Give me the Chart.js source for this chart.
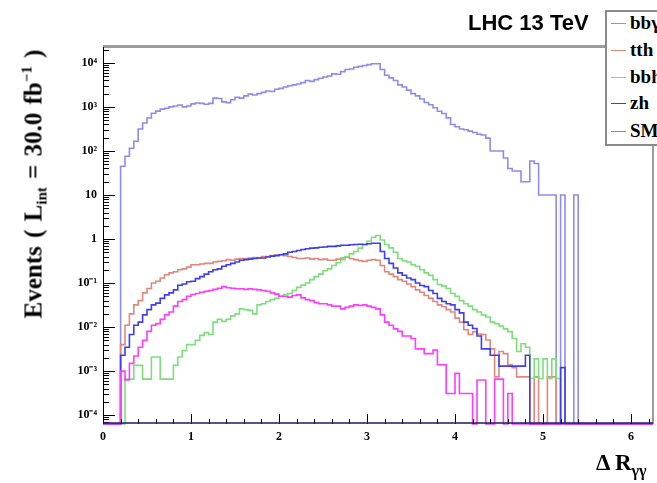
<!DOCTYPE html>
<html><head><meta charset="utf-8">
<script src="https://cdn.jsdelivr.net/npm/chart.js@4.4.0/dist/chart.umd.min.js"></script>
<style>
html,body{margin:0;padding:0;background:#fff;overflow:hidden;width:657px;height:483px;}
#wrap{position:relative;width:657px;height:483px;overflow:hidden;}
canvas{position:absolute;left:0;top:0;}
.t{position:absolute;white-space:nowrap;color:#000;}
#title{left:468px;top:12px;font:bold 22px/22px "Liberation Sans",Arial,sans-serif;}
#ytitle{left:33px;top:184px;font:bold 25px/25px "Liberation Serif","Times New Roman",serif;word-spacing:2px;transform:translate(-50%,-50%) rotate(-90deg);}
#xtitle{left:596px;top:451px;font:bold 23px/23px "Liberation Serif","Times New Roman",serif;}
#xtitle sub{font-size:70%;}
sub,sup{font-size:60%;line-height:0;}
sub{vertical-align:-0.35em;}
sup{vertical-align:0.7em;}
#legend{position:absolute;left:605px;top:10px;width:100px;height:132px;border:2px solid #8a8a8a;background:#fff;}
.row{position:absolute;left:0;height:20px;}
.row .ln{position:absolute;left:4px;top:9px;width:15px;height:0;border-top:1.5px solid #000;}
.row .tx{position:absolute;left:23px;top:-1px;font:bold 19px/20px "Liberation Serif","Times New Roman",serif;white-space:nowrap;}
</style></head><body>
<div id="wrap">
<canvas id="c" width="657" height="483"></canvas>
<div class="t" id="title">LHC 13 TeV</div>
<div id="legend"></div>
<div class="t" id="ytitle">Events ( L<sub>int</sub> = 30.0 fb<sup>−1</sup> )</div>
<div class="t" id="xtitle">Δ R<sub>γγ</sub></div>
</div>
<script>
// ---- data (histograms, bin width 0.05 from 0 to 6.25) ----
const BIN_W = 0.05;
const seriesNames = ['bbγγ', 'tth', 'bbh', 'zh', 'SM hh'];
const seriesColors = ['#8c8cf2', '#e0887c', '#7ede7e', '#3d3df5', '#ff3cff'];

const bbyy = [
  0,0,0,0,45,76,115,166,316,430,
  560,720,800,890,930,1000,1050,1100,1000,1050,
  1170,1230,1200,1150,1200,1580,1550,1300,1250,1450,
  1660,1580,1780,1950,1860,2000,2140,2290,2240,2510,
  2630,2820,3020,3160,3310,3550,3980,3800,4170,4470,
  4790,5010,5620,5500,6310,7080,7240,7940,8320,8710,
  9120,9550,9550,7080,5250,4570,3980,3160,2820,2400,
  2000,1780,1510,1260,1120,955,794,708,562,398,
  355,316,302,282,263,240,230,195,100,100,
  100,69,40,35,35,20,20,59,52,10,
  10,10,10,0,10,0,0,10,0,0,
  0,0,0,0,0,0,0,0,0,0,
  0,0,0,0,0
];
const tth = [
  0,0,0,0,0.004,0.011,0.02,0.032,0.04,0.06,
  0.075,0.1,0.11,0.13,0.155,0.17,0.18,0.2,0.21,0.23,
  0.26,0.26,0.27,0.28,0.28,0.3,0.31,0.32,0.34,0.33,
  0.35,0.36,0.36,0.37,0.38,0.37,0.4,0.4,0.42,0.43,
  0.44,0.42,0.4,0.38,0.36,0.36,0.37,0.35,0.36,0.34,
  0.35,0.33,0.33,0.35,0.37,0.39,0.36,0.34,0.32,0.31,
  0.33,0.34,0.33,0.25,0.18,0.16,0.14,0.12,0.11,0.095,
  0.083,0.07,0.062,0.052,0.045,0.038,0.032,0.029,0.025,0.022,
  0.016,0.013,0.0087,0.0068,0.0079,0.007,0.0068,0.0051,0.0032,0.00074,
  0.0028,0.0025,0.0014,0.0012,0.00074,0.00074,0.00074,0,0.00074,0,
  0,0.00074,0.00074,0,0,0,0,0,0,0,
  0,0,0,0,0,0,0,0,0,0,
  0,0,0,0,0
];
const bbh = [
  0,0,0,0,0,6.6e-4,6.6e-4,1.35e-3,1.35e-3,6.6e-4,
  6.6e-4,2.1e-3,2.1e-3,6.6e-4,6.6e-4,6.6e-4,1.35e-3,2.1e-3,2.9e-3,4e-3,
  4e-3,5e-3,6.5e-3,7.5e-3,6.8e-3,1.3e-2,1.5e-2,1.35e-2,1.5e-2,1.8e-2,
  2.0e-2,2.6e-2,2.5e-2,2.4e-2,2.0e-2,3.2e-2,3.4e-2,3.8e-2,4.2e-2,4.5e-2,
  5e-2,5.5e-2,5.8e-2,6.8e-2,8e-2,9e-2,0.1,0.12,0.14,0.16,
  0.19,0.21,0.25,0.29,0.34,0.4,0.46,0.52,0.62,0.75,
  0.89,1.1,1.2,0.95,0.75,0.63,0.5,0.36,0.32,0.3,
  0.26,0.24,0.2,0.17,0.15,0.12,0.093,0.085,0.075,0.058,
  0.05,0.04,0.034,0.03,0.025,0.022,0.019,0.017,0.013,0.012,
  0.0105,0.0091,0.0079,0.0055,0.0028,0.0042,0.0035,6.8e-4,1.9e-3,6.8e-4,
  1.9e-3,6.8e-4,1.9e-3,6.8e-4,0,0,0,0,0,0,
  0,0,0,0,0,0,0,0,0,0,
  0,0,0,0,0
];
const zh = [
  0,0,0,0,0.0023,0.0035,0.0068,0.011,0.013,0.019,
  0.025,0.032,0.035,0.045,0.054,0.06,0.07,0.089,0.095,0.107,
  0.11,0.126,0.14,0.16,0.18,0.2,0.21,0.24,0.26,0.28,
  0.3,0.33,0.34,0.35,0.36,0.37,0.37,0.39,0.41,0.42,
  0.44,0.46,0.5,0.52,0.55,0.58,0.6,0.62,0.63,0.65,
  0.66,0.68,0.68,0.7,0.72,0.72,0.74,0.75,0.76,0.75,
  0.78,0.8,0.8,0.52,0.36,0.28,0.22,0.17,0.15,0.13,
  0.12,0.1,0.088,0.083,0.068,0.058,0.045,0.038,0.034,0.032,
  0.025,0.021,0.013,0.011,0.0093,0.0063,0.0032,0.0032,0.0023,0.0023,
  0.0013,0.0013,0.0013,0.0013,0.0013,0.0013,0.0023,0,0,0,
  0,0,0,0,0.0012,0,0,0,0,0,
  0,0,0,0,0,0,0,0,0,0,
  0,0,0,0,0
];
const smhh = [
  0,0,0,0,1.0e-3,6.3e-4,1.5e-3,2.2e-3,3.5e-3,5e-3,
  8e-3,1.1e-2,1.2e-2,1.5e-2,1.9e-2,2.2e-2,3.0e-2,3.8e-2,4.2e-2,5e-2,
  5.5e-2,5.8e-2,6.2e-2,6.5e-2,6.8e-2,7.2e-2,7.6e-2,8.3e-2,7.8e-2,7.6e-2,
  7.4e-2,7.4e-2,7.2e-2,7.4e-2,7.2e-2,7.0e-2,6.8e-2,6.5e-2,6.0e-2,5.6e-2,
  5.0e-2,5.0e-2,4.8e-2,5.2e-2,5.4e-2,4.6e-2,4.2e-2,4.0e-2,3.6e-2,3.4e-2,
  3.4e-2,3.2e-2,3.0e-2,3.0e-2,2.6e-2,2.8e-2,3.0e-2,3.2e-2,3.1e-2,3.2e-2,
  3.0e-2,2.8e-2,2.6e-2,1.9e-2,1.3e-2,1.1e-2,9.1e-3,8e-3,6.3e-3,6.3e-3,
  5.5e-3,3.2e-3,3.2e-3,2.5e-3,2.5e-3,3.0e-3,1.4e-3,1.4e-3,3.1e-4,3.1e-4,
  8.9e-4,3.1e-4,3.1e-4,3.1e-4,0,6.3e-4,6.3e-4,0,0,6.6e-4,
  6.6e-4,0,3.1e-4,0,0,0,0,0,0,0,
  0,0,0,0,0,0,0,0,0,0,
  0,0,0,0,0,0,0,0,0,0,
  0,0,0,0,0
];
const seriesValues = [bbyy, tth, bbh, zh, smhh];

const xTickLabels = ['0','1','2','3','4','5','6'];
const yTickLabels = ['10⁻⁴','10⁻³','10⁻²','10⁻¹','1','10','10²','10³','10⁴'];
const yTickExponents = [-4,-3,-2,-1,0,1,2,3,4];

// ---- axis ranges ----
const X_MIN = 0, X_MAX = 6.25;
const Y_MIN = Math.pow(10, -4.2), Y_MAX = Math.pow(10, 4.36);

function toPoints(vals) {
  const pts = vals.map((v, i) => ({ x: i * BIN_W, y: v > 0 ? v : Y_MIN }));
  pts.push({ x: vals.length * BIN_W, y: pts[pts.length - 1].y });
  return pts;
}

// legend (HTML)
const leg = document.getElementById('legend');
const rowTops = [2, 28.6, 56.3, 82, 109.6];
seriesNames.forEach((n, i) => {
  const r = document.createElement('div');
  r.className = 'row'; r.style.top = rowTops[i] + 'px'; r.style.width = '100px';
  r.innerHTML = '<div class="ln" style="border-top-color:' + seriesColors[i] + '"></div><div class="tx">' + n + '</div>';
  leg.appendChild(r);
});

const isInt = v => Math.abs(v - Math.round(v)) < 1e-6;
const isDecade = v => { const e = Math.log10(v); return Math.abs(e - Math.round(e)) < 1e-6; };

const framePlugin = {
  id: 'frame',
  afterDatasetsDraw(chart) {
    const { ctx, chartArea: a, scales } = chart;
    const xs = scales.x, ys = scales.y;
    ctx.save();
    ctx.strokeStyle = '#9c9c9c';
    ctx.lineWidth = 3;
    ctx.beginPath(); ctx.moveTo(a.left, a.top - 0.5); ctx.lineTo(a.right + 1, a.top - 0.5); ctx.stroke();
    ctx.lineWidth = 2;
    ctx.beginPath(); ctx.moveTo(a.right, a.top); ctx.lineTo(a.right, a.bottom); ctx.stroke();
    ctx.strokeStyle = '#000';
    ctx.lineWidth = 1;
    ctx.beginPath();
    ys.ticks.forEach(t => {
      const py = Math.round(ys.getPixelForValue(t.value)) + 0.5;
      const len = isDecade(t.value) ? 12 : 6;
      ctx.moveTo(a.left, py); ctx.lineTo(a.left + len, py);
    });
    xs.ticks.forEach(t => {
      const px = Math.round(xs.getPixelForValue(t.value)) + 0.5;
      const len = isInt(t.value) ? 10 : 5;
      ctx.moveTo(px, a.bottom); ctx.lineTo(px, a.bottom - len);
    });
    ctx.stroke();
    ctx.beginPath(); ctx.moveTo(a.left + 0.5, a.top); ctx.lineTo(a.left + 0.5, a.bottom); ctx.stroke();
    ctx.strokeStyle = '#1c1c5c';
    ctx.lineWidth = 1.5;
    ctx.beginPath(); ctx.moveTo(a.left, a.bottom - 1); ctx.lineTo(a.right, a.bottom - 1); ctx.stroke();
    ctx.restore();
  }
};

const tickFont = { family: '"Liberation Serif","Times New Roman",serif', weight: 'bold', size: 12 };

new Chart(document.getElementById('c'), {
  type: 'line',
  data: {
    datasets: seriesValues.map((vals, i) => ({
      label: seriesNames[i],
      data: toPoints(vals),
      borderColor: seriesColors[i],
      borderWidth: 1.6,
      stepped: true,
      pointRadius: 0,
      fill: false,
      order: seriesValues.length - i,
      clip: { left: 0, top: 0, right: 0, bottom: 2 }
    }))
  },
  options: {
    responsive: false,
    animation: false,
    devicePixelRatio: 1,
    layout: { padding: { left: 0, top: 47, right: 4, bottom: 0 } },
    plugins: { legend: { display: false }, tooltip: { enabled: false } },
    elements: { line: { tension: 0 } },
    scales: {
      x: {
        type: 'linear', min: X_MIN, max: X_MAX,
        grid: { display: false, drawTicks: false },
        border: { display: false },
        afterBuildTicks: s => {
          const t = [];
          for (let k = 0; k <= 31; k++) t.push({ value: k * 0.2 });
          s.ticks = t;
        },
        afterFit: s => { s.height = 59; },
        ticks: {
          autoSkip: false, maxRotation: 0, minRotation: 0, padding: 6, color: '#000', font: tickFont,
          callback: v => isInt(v) ? (xTickLabels[Math.round(v)] || '') : ''
        }
      },
      y: {
        type: 'logarithmic', min: Y_MIN, max: Y_MAX,
        grid: { display: false, drawTicks: false },
        border: { display: false },
        afterBuildTicks: s => {
          const t = [];
          for (let e = -5; e <= 4; e++) {
            for (let m = 1; m <= 9; m++) {
              const v = m * Math.pow(10, e);
              if (v >= Y_MIN && v <= Y_MAX) t.push({ value: v });
            }
          }
          s.ticks = t;
        },
        afterFit: s => { s.width = 103; },
        ticks: {
          autoSkip: false, padding: 6, color: '#000', font: tickFont,
          callback: v => {
            if (!isDecade(v)) return '';
            const idx = yTickExponents.indexOf(Math.round(Math.log10(v)));
            return idx >= 0 ? yTickLabels[idx] : '';
          }
        }
      }
    }
  },
  plugins: [framePlugin]
});
</script>
</body></html>
